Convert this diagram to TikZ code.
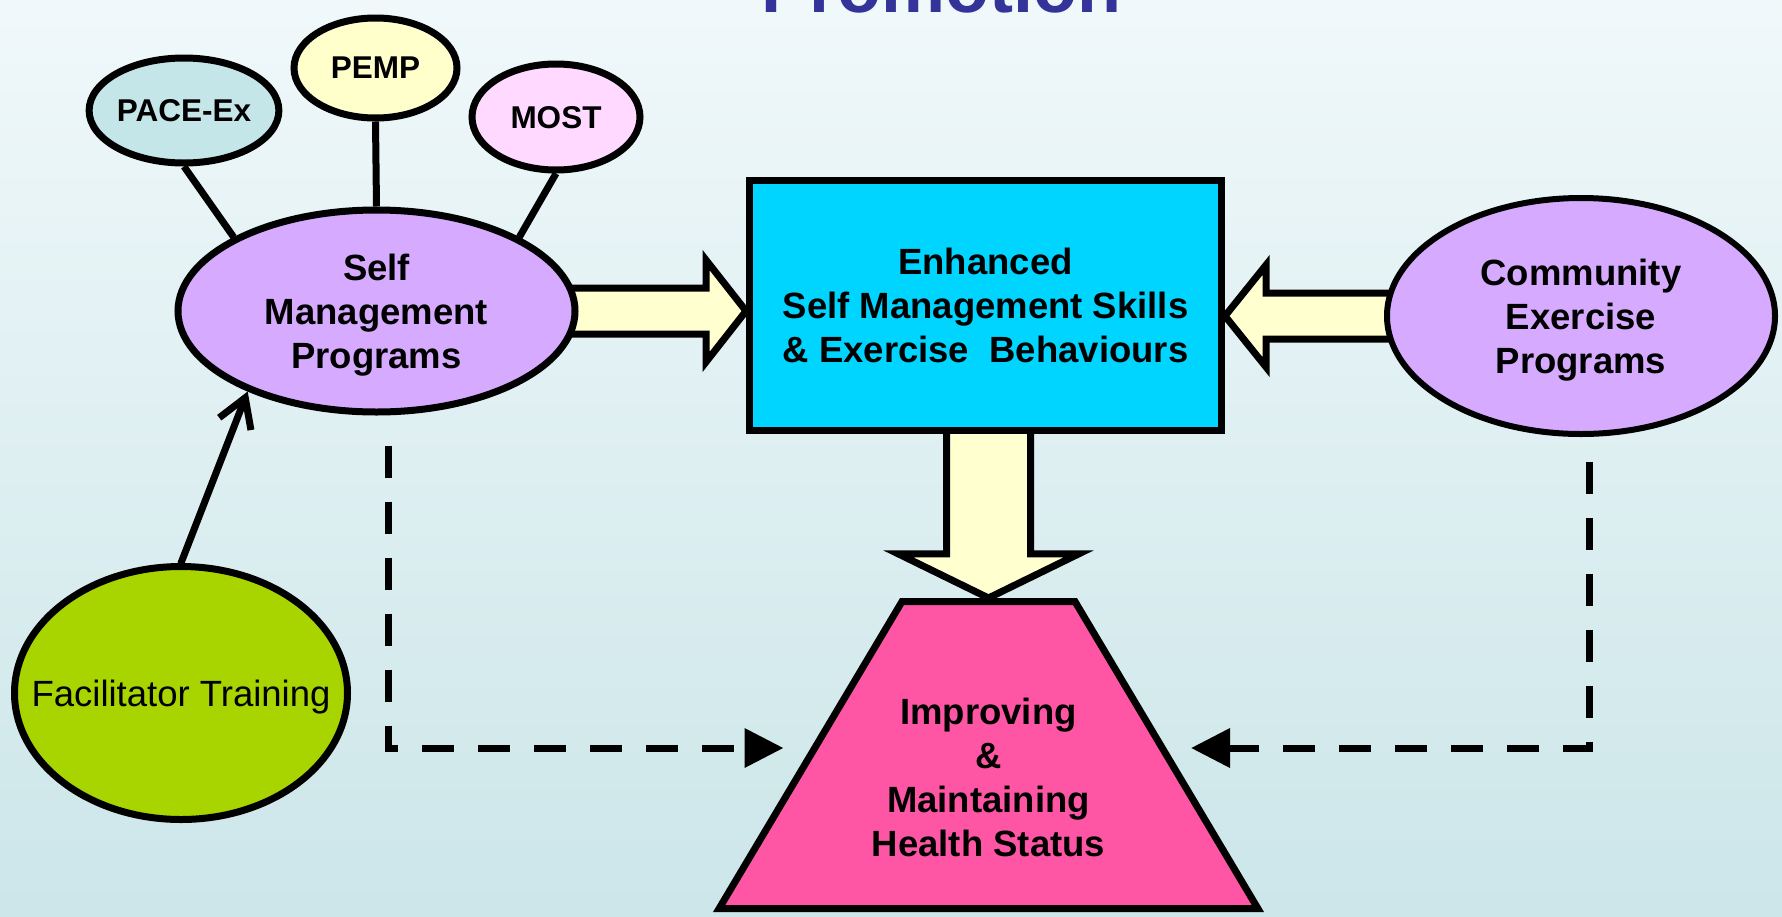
\documentclass[tikz,border=0pt]{standalone}
\usepackage{fontspec}
\setmainfont{Liberation Sans}
\usetikzlibrary{shapes.geometric, arrows.meta, calc, backgrounds}

\definecolor{bgtop}{HTML}{F0F8FA}
\definecolor{bgbottom}{HTML}{CCE6E9}
\definecolor{titleblue}{HTML}{333399}
\definecolor{paceblue}{HTML}{C5E6E8}
\definecolor{pempyellow}{HTML}{FFFFCC}
\definecolor{mostpink}{HTML}{FFD9FF}
\definecolor{progpurple}{HTML}{D6AAFF}
\definecolor{skillcyan}{HTML}{00D5FF}
\definecolor{facilgreen}{HTML}{A8D400}
\definecolor{healthpink}{HTML}{FF55A5}
\definecolor{arrowcream}{HTML}{FFFFD0}

\tikzset{
  bubble/.style={ellipse, draw, line width=3.5pt, inner sep=0pt, align=center, text depth=0pt,
    font=\fontsize{18.25}{22}\selectfont\bfseries},
  smallbubble/.style={bubble, font=\fontsize{15.75}{19}\selectfont\bfseries},
  link/.style={line width=3.5pt},
  blockarrow/.style={draw, line width=3.5pt, fill=arrowcream, line join=miter},
  dashline/.style={line width=3.5pt, dash pattern=on 16pt off 12pt,
    -{Triangle[length=19.5pt,width=19pt]}},
}

\begin{document}
\begin{tikzpicture}[x=0.5pt, y=-0.5pt]
	\useasboundingbox (0,0) rectangle (1782,916);
	% title, cut off by the top edge
	\node[anchor=base, text=titleblue, font=\fontsize{36}{40}\selectfont\bfseries] (title) at (941.5,12) {Promotion};
	%
	\node[smallbubble, fill=paceblue, minimum width=89.5pt, minimum height=52.5pt] (pace) at (184,110.5) {PACE-Ex};
	\node[smallbubble, fill=pempyellow, minimum width=81.5pt, minimum height=50pt] (pemp) at (375.5,68) {PEMP};
	\node[smallbubble, fill=mostpink, minimum width=84pt, minimum height=53pt] (most) at (556,117) {MOST};
	\node[bubble, fill=progpurple, minimum width=198.5pt, minimum height=101pt] (selfmgmt) at (376.5,311) {Self\\ Management\\ Programs};
	\node[bubble, fill=progpurple, line width=3pt, minimum width=194pt, minimum height=118pt] (community) at (1581,316) {Community\\ Exercise\\ Programs};
	\node[bubble, fill=facilgreen, minimum width=166.5pt, minimum height=126.5pt, font=\fontsize{18.25}{22}\selectfont] (facil) at (181,693) {\makebox[0pt]{Facilitator Training}};
	%
	\node[draw, line width=3.5pt, fill=skillcyan, minimum width=236pt, minimum height=125pt, inner sep=0pt, align=center,
		font=\fontsize{18.25}{22}\selectfont\bfseries] (skills) at (985.5,305) {Enhanced\\ Self Management Skills\\ \& Exercise\ \ Behaviours};
	\node[trapezium, trapezium left angle=43.4, trapezium right angle=43.4, trapezium stretches=true, draw, line width=3.5pt,
		fill=healthpink, minimum width=269.5pt, minimum height=153.5pt, inner sep=2pt] (health) at (988.5,755) {};
	\node[align=center, font=\fontsize{18.25}{22}\selectfont\bfseries] (healthtext) at ($(health.center)+(0,22)$) {Improving\\ \&\\ Maintaining\\ Health Status};
	%
	\draw[link] (pace.south) -- (selfmgmt.north west);
	\draw[link] (pemp.south) -- (selfmgmt.north);
	\draw[link] (most.south) -- (selfmgmt.north east);
	\draw[link, line cap=round, -{Straight Barb[length=14pt,width=17pt]}] (facil.north) -- (selfmgmt.212);
	%
	\coordinate (smdash) at ($(selfmgmt.south)+(12,30)$);
	\coordinate (hleft) at ($(health.center)+(-205,-7)$);
	\coordinate (cedash) at ($(community.south)+(8,25)$);
	\coordinate (hright) at ($(health.center)+(202.5,-7)$);
	\draw[dashline] (smdash) |- (hleft);
	\draw[dashline] (cedash) |- (hright);
	%
	\begin{scope}[on background layer]
		\fill[top color=bgtop, bottom color=bgbottom] (0,0) rectangle (1782,916);
		\coordinate (ltip) at (skills.west |- selfmgmt.east);
		\coordinate (rtip) at (skills.east |- community.west);
		\coordinate (dtip) at (health.north);
		\draw[blockarrow] ($(selfmgmt.center)+(0,-23)$) -- ($(ltip)+(-40,-23)$) -- ($(ltip)+(-40,-51)$) -- (ltip)
			-- ($(ltip)+(-40,51)$) -- ($(ltip)+(-40,23)$) -- ($(selfmgmt.center)+(0,23)$) -- cycle;
		\draw[blockarrow] ($(community.center)+(0,-23)$) -- ($(rtip)+(41,-23)$) -- ($(rtip)+(41,-51)$) -- (rtip)
			-- ($(rtip)+(41,51)$) -- ($(rtip)+(41,23)$) -- ($(community.center)+(0,23)$) -- cycle;
		\draw[blockarrow] ($(skills.center -| dtip)+(-42,0)$) -- ($(dtip)+(-42,-44)$) -- ($(dtip)+(-90,-44)$) -- (dtip)
			-- ($(dtip)+(90,-44)$) -- ($(dtip)+(42,-44)$) -- ($(skills.center -| dtip)+(42,0)$) -- cycle;
	\end{scope}
\end{tikzpicture}
\end{document}
